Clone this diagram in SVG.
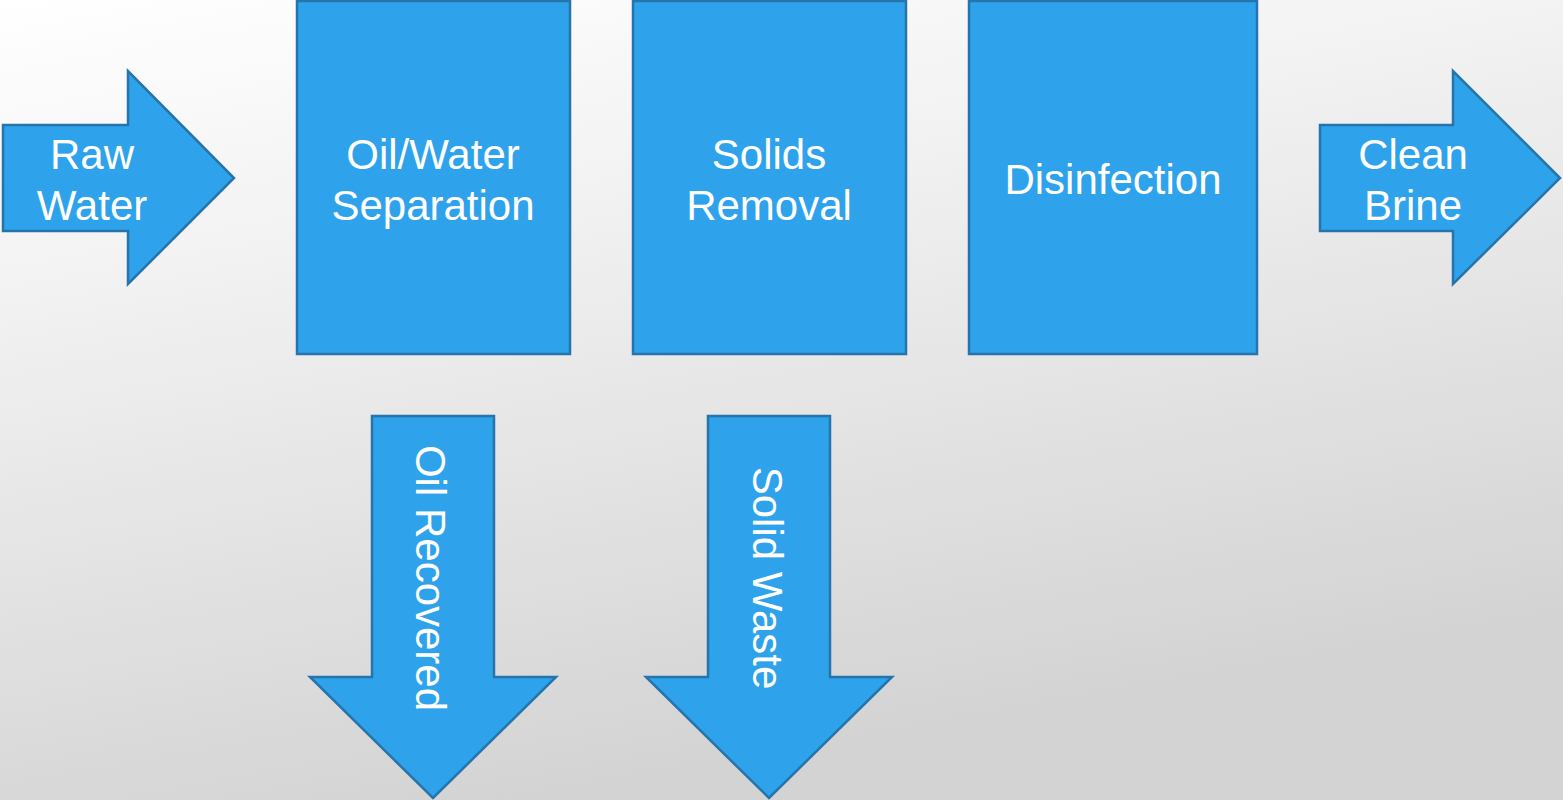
<svg xmlns="http://www.w3.org/2000/svg" width="1563" height="800" viewBox="0 0 1563 800">
<defs>
<linearGradient id="bg" x1="0" y1="0" x2="0.35" y2="1">
<stop offset="0" stop-color="#ffffff"/>
<stop offset="0.35" stop-color="#f1f1f1"/>
<stop offset="1" stop-color="#d3d3d3"/>
</linearGradient>
<style>
.shape{fill:#2fa2ec;stroke:#2574ab;stroke-width:2.5;stroke-linejoin:miter}
.lbl{fill:#ffffff;font-family:"Liberation Sans",Arial,sans-serif;font-size:42px;text-anchor:middle}
</style>
</defs>
<rect x="0" y="0" width="1563" height="800" fill="url(#bg)"/>
<g id="raw-water">
<polygon class="shape" points="3,125 128,125 128,71 234,178 128,284 128,231 3,231"/>
<text class="lbl" x="92" y="169">Raw</text>
<text class="lbl" x="92" y="220">Water</text>
</g>
<g id="oil-water-separation">
<rect class="shape" x="297" y="1" width="273" height="353"/>
<text class="lbl" x="433" y="169">Oil/Water</text>
<text class="lbl" x="433" y="220">Separation</text>
</g>
<g id="solids-removal">
<rect class="shape" x="633" y="1" width="273" height="353"/>
<text class="lbl" x="769" y="169">Solids</text>
<text class="lbl" x="769" y="220">Removal</text>
</g>
<g id="disinfection">
<rect class="shape" x="969" y="1" width="288" height="353"/>
<text class="lbl" x="1113" y="194">Disinfection</text>
</g>
<g id="clean-brine">
<polygon class="shape" points="1320,125 1453,125 1453,71 1560,178 1453,284 1453,231 1320,231"/>
<text class="lbl" x="1413" y="169">Clean</text>
<text class="lbl" x="1413" y="220">Brine</text>
</g>
<g id="oil-recovered">
<polygon class="shape" points="372,416 494,416 494,677 556,677 433,798 310,677 372,677"/>
<text class="lbl" transform="translate(416,578) rotate(90)" x="0" y="0">Oil Recovered</text>
</g>
<g id="solid-waste">
<polygon class="shape" points="708,416 830,416 830,677 892,677 769,798 646,677 708,677"/>
<text class="lbl" transform="translate(753,578) rotate(90)" x="0" y="0">Solid Waste</text>
</g>
<g id="connectors"></g>
</svg>
